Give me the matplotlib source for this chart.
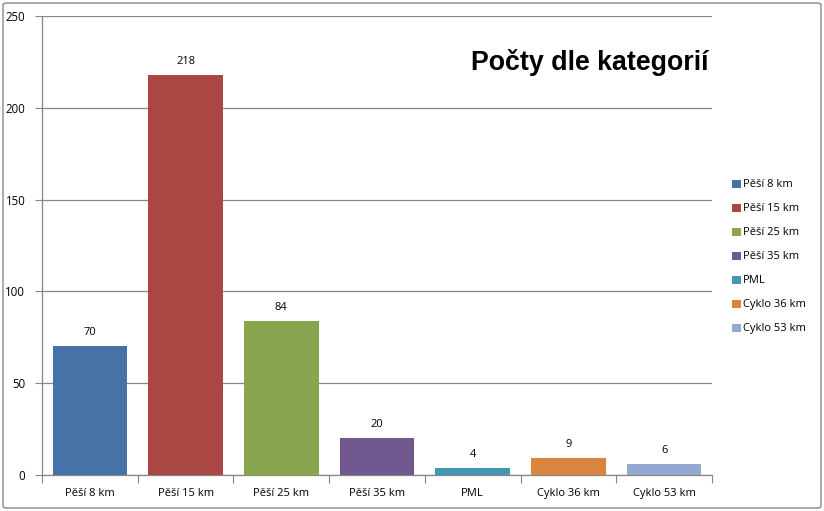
import numpy as np
import matplotlib
matplotlib.use("Agg")
import matplotlib.pyplot as plt
from matplotlib.patches import FancyBboxPatch, Patch

# data
categories = ["Pěší 8 km", "Pěší 15 km", "Pěší 25 km", "Pěší 35 km", "PML", "Cyklo 36 km", "Cyklo 53 km"]
counts = [70, 218, 84, 20, 4, 9, 6]
colors = ["#4672A8", "#AA4643", "#89A54E", "#71588F", "#4198AF", "#DB843D", "#93A9CF"]
yticks = [0, 50, 100, 150, 200, 250]
title = "Počty dle kategorií"

plt.rcParams['font.family'] = ['Open Sans', 'DejaVu Sans']

fig = plt.figure(figsize=(8.24, 5.11), dpi=100)
ax = fig.add_axes([42 / 824, 36 / 511, 670 / 824, 459 / 511])

x = np.arange(len(categories))
bars = ax.bar(x, counts, width=0.78, color=colors, zorder=3)

for xi, v in zip(x, counts):
    ax.annotate(str(v), (xi, v), xytext=(0, 8), textcoords="offset pixels",
                ha="center", va="bottom", fontsize=8, color="#000000")

ax.set_xlim(-0.5, len(categories) - 0.5)
ax.set_ylim(0, 250)
ax.set_yticks(yticks)
ax.set_yticklabels([str(t) for t in yticks], fontsize=8.3)
ax.yaxis.grid(True, color="#868686", linewidth=0.9, zorder=0)
ax.tick_params(axis="y", length=5, color="#868686", pad=7)

# category boundary ticks, labels centered under bars
ax.set_xticks(np.arange(-0.5, len(categories)), minor=False)
ax.set_xticklabels([])
ax.set_xticks(x, minor=True)
ax.set_xticklabels(categories, minor=True, fontsize=8)
ax.tick_params(axis="x", which="major", length=6, color="#868686")
ax.tick_params(axis="x", which="minor", length=0, pad=9)

for s in ["top", "right"]:
    ax.spines[s].set_visible(False)
for s in ["left", "bottom"]:
    ax.spines[s].set_color("#868686")
    ax.spines[s].set_linewidth(0.9)

ax.text(0.995, 0.898, title, transform=ax.transAxes, ha="right", va="center",
        fontsize=19.3, fontweight="bold", family=["Liberation Sans", "DejaVu Sans"])

handles = [Patch(facecolor=c, edgecolor="none") for c in colors]
fig.legend(handles, categories, loc="upper left", bbox_to_anchor=(728 / 824, 1 - 175 / 511),
           frameon=False, fontsize=8, handlelength=0.75, handleheight=0.75,
           handletextpad=0.2, labelspacing=1.17, borderaxespad=0)

border = FancyBboxPatch((3 / 824, 3 / 511), 818 / 824, 505 / 511,
                        boxstyle="round,pad=0,rounding_size=0.004",
                        transform=fig.transFigure, fill=False,
                        edgecolor="#888888", linewidth=1.0)
fig.patches.append(border)

fig.savefig("out.png", dpi=100)
